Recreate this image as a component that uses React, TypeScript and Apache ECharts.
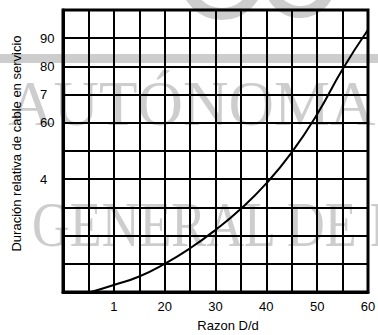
import React, { useEffect, useRef } from "react";
import * as echarts from "echarts";

const ratioDd = [5.5, 10, 15, 20, 25, 30, 35, 40, 45, 50, 55, 60];
const relativeLife = [0, 2.5, 5.5, 10, 15.5, 22, 29.5, 38.5, 49.5, 63, 79, 93];

const xTickValues = [10, 20, 30, 40, 50, 60];
const xTickLabels = ["1", "20", "30", "40", "50", "60"];
const yTickValues = [90, 80, 70, 60, 40];
const yTickLabels = ["90", "80", "7", "60", "4"];

const xTitle = "Razon D/d";
const yTitle = "Duración relativa de cable en servicio";
const watermarkLines = ["AUTÓNOMA DE", "GENERAL DE F"];

export default function App() {
  const ref = useRef<HTMLDivElement>(null);
  useEffect(() => {
    if (!ref.current) return;
    const chart = echarts.init(ref.current, undefined, { renderer: "svg" });
    const wm = "#cdcdcd";
    chart.setOption({
      animation: false,
      backgroundColor: "#fff",
      graphic: [
        { type: "rect", z: -10, shape: { x: 0, y: 54, width: 378, height: 9 }, style: { fill: wm } },
        { type: "arc", z: -10, shape: { cx: 222, cy: -22, r: 36, startAngle: 0, endAngle: Math.PI }, style: { stroke: wm, lineWidth: 12, fill: "none" } },
        { type: "arc", z: -10, shape: { cx: 300, cy: -18, r: 30, startAngle: 0.2, endAngle: Math.PI * 0.9 }, style: { stroke: wm, lineWidth: 12, fill: "none" } },
        {
          type: "text", z: -10, x: 8, y: 104,
          style: { text: watermarkLines[0], fontFamily: "Liberation Serif", fontSize: 63, fill: wm, verticalAlign: "middle" },
        },
        {
          type: "text", z: -10, x: 32, y: 225, scaleX: 0.83,
          style: { text: watermarkLines[1], fontFamily: "Liberation Serif", fontSize: 63, fill: wm, verticalAlign: "middle" },
        },
      ],
      grid: {
        left: 63, right: 10, top: 10, bottom: 43,
        containLabel: false, outerBoundsMode: "none",
        show: true, borderColor: "#000", borderWidth: 3, backgroundColor: "transparent",
      },
      xAxis: {
        type: "value", min: 0, max: 60, interval: 5,
        name: xTitle, nameLocation: "middle", nameGap: 27,
        nameTextStyle: { color: "#000", fontFamily: "Liberation Sans", fontSize: 13, padding: [0, 0, 0, 25] },
        axisLine: { show: true, lineStyle: { color: "#000", width: 3 } },
        axisTick: { show: false },
        splitLine: { show: true, lineStyle: { color: "#000", width: 2 } },
        axisLabel: {
          color: "#000", fontFamily: "Liberation Sans", fontSize: 13, margin: 8,
          formatter: (v: number) => {
            const i = xTickValues.indexOf(v);
            return i >= 0 ? xTickLabels[i] : "";
          },
        },
      },
      yAxis: {
        type: "value", min: 0, max: 100, interval: 10,
        name: yTitle, nameLocation: "middle", nameGap: 40,
        nameTextStyle: { color: "#000", fontFamily: "Liberation Sans Narrow, Liberation Sans", fontSize: 13, padding: [0, 0, 0, 15] },
        axisLine: { show: true, lineStyle: { color: "#000", width: 3 } },
        axisTick: { show: false },
        splitLine: { show: true, lineStyle: { color: "#000", width: 2 } },
        axisLabel: {
          color: "#000", fontFamily: "Liberation Sans", fontSize: 13, margin: 23, align: "left",
          formatter: (v: number) => {
            const i = yTickValues.indexOf(v);
            return i >= 0 ? yTickLabels[i] : "";
          },
        },
      },
      series: [
        {
          type: "line",
          data: ratioDd.map((x, i) => [x, relativeLife[i]]),
          smooth: true,
          showSymbol: false,
          lineStyle: { color: "#000", width: 2 },
          z: 5,
        },
      ],
    });
    return () => chart.dispose();
  }, []);
  return <div ref={ref} style={{ width: 378, height: 335, position: "fixed", left: 0, top: 0 }} />;
}
